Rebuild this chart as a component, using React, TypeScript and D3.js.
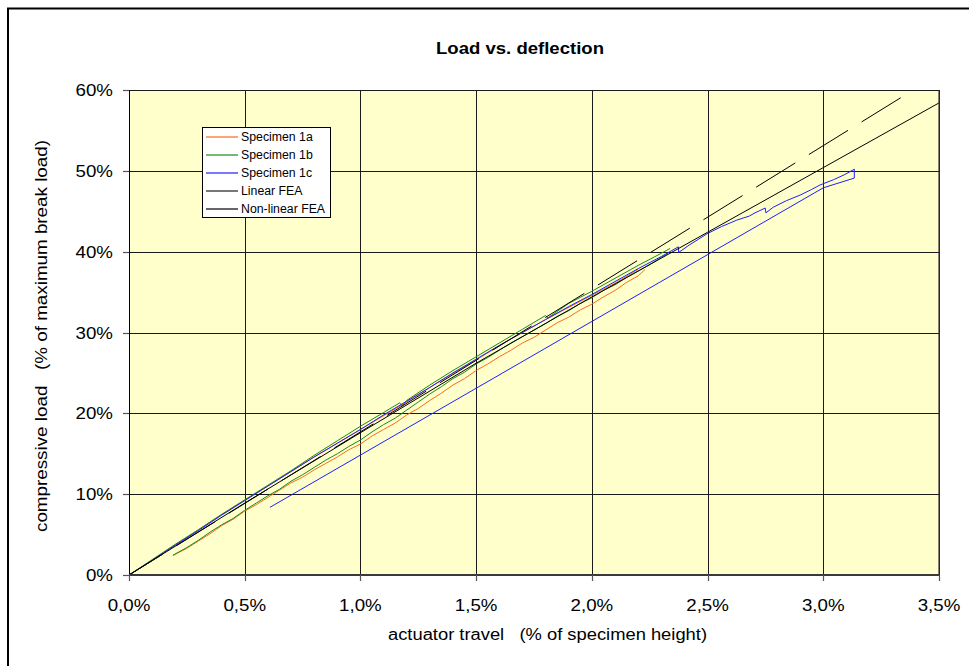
import React from "react";
import * as d3 from "d3";

// ---------- data (x: % of specimen height, y: % of max break load) ----------
const xTicks = [0, 0.5, 1.0, 1.5, 2.0, 2.5, 3.0, 3.5];
const xTickLabels = ["0,0%", "0,5%", "1,0%", "1,5%", "2,0%", "2,5%", "3,0%", "3,5%"];
const yTicks = [0, 10, 20, 30, 40, 50, 60];
const yTickLabels = ["0%", "10%", "20%", "30%", "40%", "50%", "60%"];

const seriesNames = ["Specimen 1a", "Specimen 1b", "Specimen 1c", "Linear FEA", "Non-linear FEA"];

const spec1aUpper: [number, number][] = [
  [0, 0], [0.2, 3.7], [0.35, 6.55], [0.5, 9.25], [0.65, 11.9], [0.8, 14.6], [1.0, 18.0], [1.2, 21.4], [1.35, 24.1],
  [1.5, 26.6], [1.65, 29.2], [1.8, 31.6], [2.0, 34.6], [2.1, 36.1], [2.2, 37.8],
];
const spec1aLower: [number, number][] = [
  [0.189, 2.39], [0.25, 3.3], [0.3, 4.2], [0.35, 5.1], [0.4, 6.1], [0.45, 6.9], [0.5, 7.9], [0.55, 8.7], [0.6, 9.6],
  [0.65, 10.5], [0.7, 11.4], [0.75, 12.1], [0.8, 13.0], [0.85, 13.8], [0.9, 14.6], [0.95, 15.5], [1.0, 16.2],
  [1.05, 17.2], [1.1, 18.0], [1.15, 18.8], [1.2, 19.8], [1.25, 20.6], [1.3, 21.6], [1.35, 22.5], [1.4, 23.5],
  [1.45, 24.3], [1.5, 25.3], [1.55, 26.1], [1.6, 27.0], [1.65, 27.8], [1.7, 28.7], [1.75, 29.4], [1.8, 30.3],
  [1.85, 31.2], [1.9, 31.9], [1.95, 32.8], [2.0, 33.5], [2.05, 34.4], [2.1, 35.2], [2.15, 36.2], [2.2, 37.0],
  [2.23, 37.8],
];
const spec1bUpper: [number, number][] = [
  [0, 0], [0.1, 1.9], [0.2, 3.8], [0.3, 5.6], [0.4, 7.5], [0.5, 9.3], [0.6, 11.1], [0.7, 12.9], [0.8, 14.8], [0.9, 16.6],
  [1.0, 18.4], [1.1, 20.1], [1.17, 21.3], [1.18, 20.9], [1.2, 21.6], [1.3, 23.5], [1.4, 25.3], [1.5, 27.0], [1.6, 28.7],
  [1.7, 30.4], [1.8, 32.1], [1.81, 31.8], [1.9, 33.6], [2.0, 35.1], [2.1, 36.7], [2.2, 38.3], [2.3, 39.8], [2.338, 40.4],
];
const spec1bLower: [number, number][] = [
  [0.19, 2.45], [0.25, 3.4], [0.3, 4.3], [0.35, 5.3], [0.4, 6.2], [0.45, 7.0], [0.5, 8.0], [0.55, 8.9], [0.6, 9.8],
  [0.65, 10.6], [0.7, 11.6], [0.75, 12.4], [0.8, 13.3], [0.85, 14.2], [0.9, 15.0], [0.95, 15.9], [1.0, 16.7],
  [1.05, 17.7], [1.1, 18.6], [1.15, 19.4], [1.2, 20.4], [1.25, 21.4], [1.3, 22.4], [1.35, 23.3], [1.4, 24.3],
  [1.45, 25.1], [1.5, 26.1], [1.55, 26.9], [1.6, 27.8], [1.65, 28.7], [1.7, 29.5], [1.75, 30.3], [1.8, 31.1],
  [1.85, 32.0], [1.9, 32.7], [1.95, 33.6], [2.0, 34.3], [2.05, 35.2], [2.1, 35.9], [2.15, 36.8], [2.2, 37.6],
  [2.25, 38.4], [2.3, 39.3], [2.33, 39.8],
];
const spec1c: [number, number][] = [
  [0, 0], [0.1, 1.8], [0.2, 3.7], [0.3, 5.5], [0.4, 7.4], [0.5, 9.2], [0.6, 11.0], [0.7, 12.8], [0.8, 14.6], [0.9, 16.3],
  [1.0, 18.0], [1.1, 19.8], [1.2, 21.5], [1.3, 23.2], [1.4, 25.0], [1.5, 26.7], [1.6, 28.4], [1.7, 30.0], [1.8, 31.6],
  [1.9, 33.2], [2.0, 34.7], [2.1, 36.3], [2.2, 37.9], [2.3, 39.4], [2.374, 40.6], [2.375, 39.9], [2.42, 40.8],
  [2.497, 42.2], [2.56, 43.1], [2.626, 43.9], [2.68, 44.4], [2.705, 44.8], [2.749, 45.4], [2.752, 44.8], [2.784, 45.5],
  [2.84, 46.3], [2.9, 47.0], [2.95, 47.7], [2.986, 48.25], [3.044, 48.9], [3.09, 49.5], [3.134, 50.2], [3.134, 49.1],
  [3.0, 47.9], [0.609, 8.37],
];
const linearFEA: [number, number][] = [[0, 0], [3.335, 59.05]];
const nonlinearFEA: [number, number][] = [
  [0, 0], [0.5, 8.9], [1.0, 17.6], [1.5, 26.2], [2.0, 34.4], [2.5, 42.4], [3.0, 50.4], [3.5, 58.4],
];

const colors = ["#FF6A1A", "#1A8A1A", "#1F1FFF", "#000000", "#000000"];

const FONT = "'Liberation Sans', Arial, sans-serif";

export default function App() {
  const x = d3.scaleLinear().domain([0, 3.5]).range([129, 939]);
  const y = d3.scaleLinear().domain([0, 60]).range([575, 90]);
  const line = d3
    .line<[number, number]>()
    .x((d) => x(d[0]))
    .y((d) => y(d[1]));

  const specimenPaths: { d: [number, number][]; c: string }[] = [
    { d: spec1aUpper, c: colors[0] },
    { d: spec1aLower, c: colors[0] },
    { d: spec1bUpper, c: colors[1] },
    { d: spec1bLower, c: colors[1] },
    { d: spec1c, c: colors[2] },
  ];

  const sx = 1.17;

  return (
    <svg
      width={969}
      height={666}
      style={{ position: "absolute", left: 0, top: 0, display: "block", background: "#fff" }}
      fontFamily={FONT}
    >
      {/* outer frame */}
      <rect x={8} y={8.5} width={1000} height={700} fill="#fff" stroke="#000" strokeWidth={2} />

      {/* title */}
      <text x={520} y={54} textAnchor="middle" fontSize={16} fontWeight="bold" textLength={168} lengthAdjust="spacingAndGlyphs">
        Load vs. deflection
      </text>

      {/* plot background */}
      <rect x={x(0)} y={y(60)} width={x(3.5) - x(0)} height={y(0) - y(60)} fill="#FFFFCC" />

      {/* gridlines */}
      {xTicks.slice(1).map((t) => (
        <line key={"gx" + t} x1={Math.round(x(t)) + 0.5} x2={Math.round(x(t)) + 0.5} y1={y(0)} y2={y(60)} stroke="#1a1a1a" strokeWidth={1} />
      ))}
      {yTicks.slice(1).map((t) => (
        <line key={"gy" + t} x1={x(0)} x2={x(3.5)} y1={Math.round(y(t)) + 0.5} y2={Math.round(y(t)) + 0.5} stroke="#1a1a1a" strokeWidth={1} />
      ))}

      {/* specimen curves */}
      {specimenPaths.map((p, i) => (
        <path key={"s" + i} d={line(p.d) || ""} fill="none" stroke={p.c} strokeWidth={1} strokeLinejoin="round" />
      ))}

      {/* FEA */}
      <path d={line(linearFEA) || ""} fill="none" stroke="#000" strokeWidth={1} strokeDasharray="46 16" strokeDashoffset={6.6} />
      <path d={line(nonlinearFEA) || ""} fill="none" stroke="#000" strokeWidth={1} />

      {/* axes */}
      <line x1={x(0) + 0.5} x2={x(0) + 0.5} y1={y(0)} y2={y(60)} stroke="#000" strokeWidth={1} />
      <line x1={x(3.5)} x2={x(3.5)} y1={y(0)} y2={y(60)} stroke="#333" strokeWidth={1.2} />
      <line x1={x(0)} x2={x(3.5)} y1={y(0)} y2={y(0)} stroke="#3a3a3a" strokeWidth={2} />

      {yTicks.map((t, i) => (
        <g key={"yt" + t}>
          <line x1={x(0) - 6} x2={x(0)} y1={Math.round(y(t)) + 0.5} y2={Math.round(y(t)) + 0.5} stroke="#555" strokeWidth={1.2} />
          <text transform={`translate(113,${y(t) + 6}) scale(${sx},1)`} textAnchor="end" fontSize={16} fill="#000">
            {yTickLabels[i]}
          </text>
        </g>
      ))}
      {xTicks.map((t, i) => (
        <g key={"xt" + t}>
          <line x1={Math.round(x(t)) + 0.5} x2={Math.round(x(t)) + 0.5} y1={y(0)} y2={y(0) + 6} stroke="#555" strokeWidth={1.2} />
          <text transform={`translate(${x(t)},611) scale(${sx},1)`} textAnchor="middle" fontSize={16} fill="#000">
            {xTickLabels[i]}
          </text>
        </g>
      ))}

      {/* axis titles */}
      <text
        x={547.5}
        y={640}
        textAnchor="middle"
        fontSize={16}
        textLength={319}
        lengthAdjust="spacingAndGlyphs"
        style={{ whiteSpace: "pre" }}
      >
        actuator travel   (% of specimen height)
      </text>
      <text
        transform={`translate(47,336) rotate(-90)`}
        textAnchor="middle"
        fontSize={16}
        textLength={392}
        lengthAdjust="spacingAndGlyphs"
        style={{ whiteSpace: "pre" }}
      >
        compressive load   (% of maximum break load)
      </text>

      {/* legend */}
      <g>
        <rect x={202.5} y={127.5} width={128} height={90} fill="#fff" stroke="#000" strokeWidth={1} />
        {seriesNames.map((n, i) => {
          const yy = 137 + i * 18;
          return (
            <g key={n}>
              <line
                x1={206}
                x2={238}
                y1={yy}
                y2={yy}
                stroke={i === 3 ? "#777" : colors[i]}
                strokeWidth={i === 3 ? 2 : 1.2}
              />
              <text x={241} y={yy + 4.3} fontSize={12.3} fill="#000">
                {n}
              </text>
            </g>
          );
        })}
      </g>
    </svg>
  );
}
